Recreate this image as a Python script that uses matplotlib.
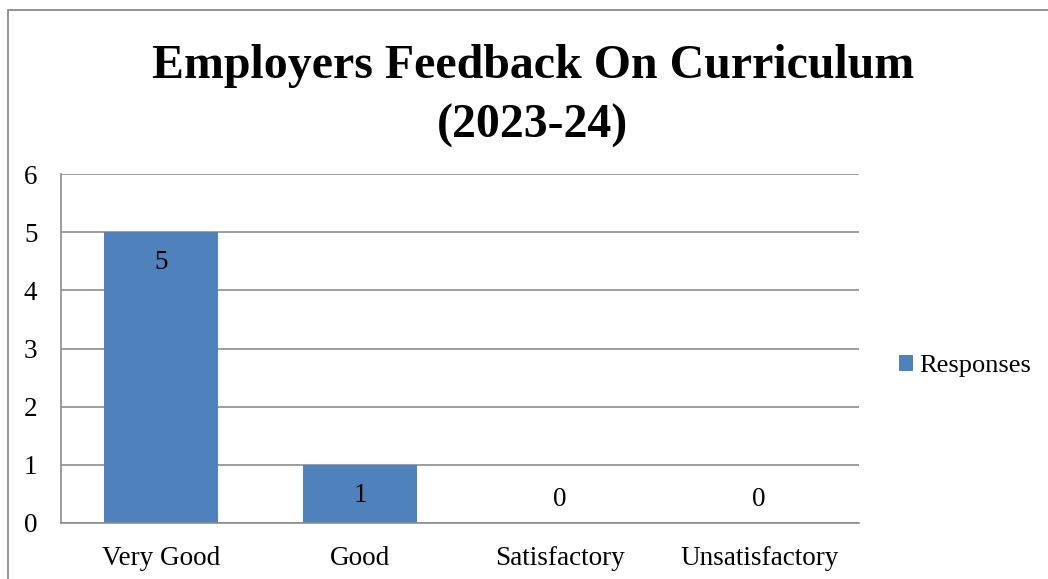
import matplotlib
matplotlib.use("Agg")
import matplotlib.pyplot as plt
from matplotlib.patches import Rectangle
import numpy as np

categories = ["Very Good", "Good", "Satisfactory", "Unsatisfactory"]
responses = [5, 1, 0, 0]
yticks = [0, 1, 2, 3, 4, 5, 6]

bar_color = "#4F81BD"
grid_color = "#8C8C8C"

plt.rcParams["font.family"] = ["Liberation Serif", "DejaVu Serif"]

fig = plt.figure(figsize=(10.48, 5.79), dpi=100)

# chart border (left and top visible, the rest is cut off)
fig.patches.append(Rectangle((8 / 1048, -0.05), 1.1, 1 - 10 / 579 + 0.05,
                             transform=fig.transFigure, fill=False,
                             edgecolor="#8C8C8C", linewidth=1.3))

ax = fig.add_axes([61 / 1048, 1 - 523 / 579, 798 / 1048, 349 / 579])
x = np.arange(len(categories))
ax.bar(x, responses, width=0.57, color=bar_color, label="Responses", zorder=2)

ax.set_xlim(-0.5, len(categories) - 0.5)
ax.set_ylim(0, 6)
ax.set_yticks(yticks)
ax.set_xticks(x)
ax.set_xticklabels(categories)
ax.tick_params(axis="both", length=0, labelsize=19.5)
ax.tick_params(axis="y", pad=17)
ax.tick_params(axis="x", pad=16.5)
ax.yaxis.grid(True, color=grid_color, linewidth=1.2, zorder=0)
ax.set_axisbelow(True)
for side in ["top", "right"]:
    ax.spines[side].set_visible(False)
for side in ["left", "bottom"]:
    ax.spines[side].set_color(grid_color)
    ax.spines[side].set_linewidth(1.2)

# data labels, inside end; zero values sit just above the axis
for xi, v in zip(x, responses):
    off = -22 if v > 0 else 17
    ax.annotate(str(v), (xi, v), xytext=(0, off), textcoords="offset points",
                ha="center", va="center", fontsize=19.5)

fig.text(533 / 1048, 1 - 96 / 579, "Employers Feedback On Curriculum\n(2023-24)",
         ha="center", va="center", fontsize=34.5, fontweight="bold",
         linespacing=1.47)

fig.legend(loc="center left", bbox_to_anchor=(888 / 1048, 1 - 366 / 579),
           frameon=False, fontsize=19, handlelength=0.55, handleheight=0.55,
           handletextpad=0.25, borderaxespad=0)

fig.savefig("out.png", dpi=100)
